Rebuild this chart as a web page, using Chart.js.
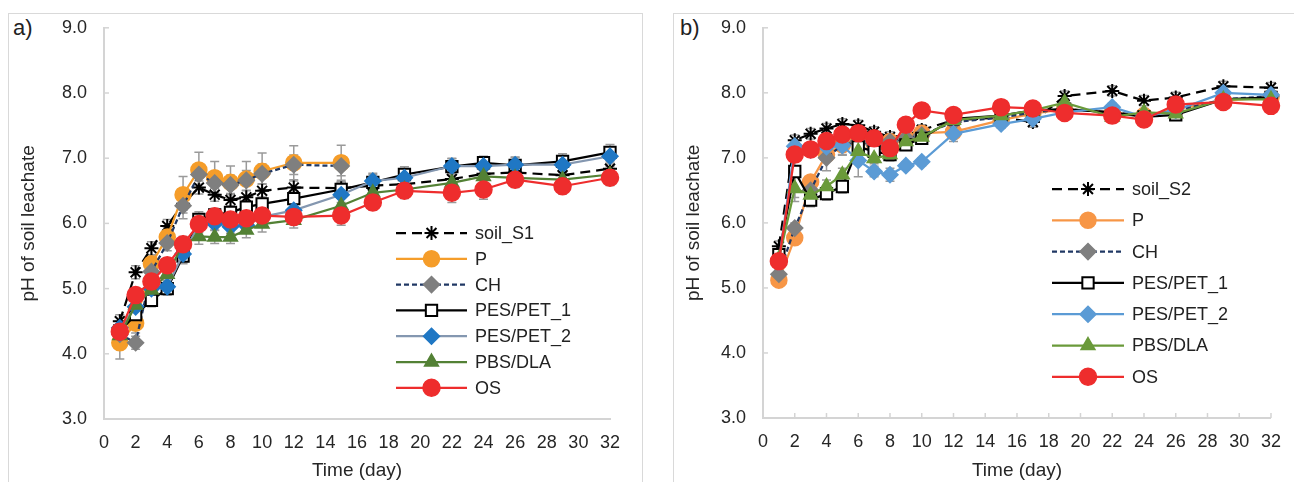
<!DOCTYPE html>
<html>
<head>
<meta charset="utf-8">
<script src="https://cdn.jsdelivr.net/npm/chart.js@4.4.1/dist/chart.umd.min.js"></script>
<style>
body { margin: 0; background: #fff; width: 1294px; height: 482px; overflow: hidden; position: relative; font-family: "Liberation Sans", Arial, sans-serif; }
.frame { position: absolute; border: 1px solid #d9d9d9; }
#frameA { left: 8px; top: 13px; width: 633px; height: 480px; }
#frameB { left: 673px; top: 13px; width: 640px; height: 480px; }
.tag { position: absolute; font-size: 22px; color: #222; top: 15px; }
canvas { position: absolute; top: 0; }
</style>
</head>
<body>
<div class="frame" id="frameA"></div>
<div class="frame" id="frameB"></div>
<div class="tag" style="left:13px">a)</div>
<div class="tag" style="left:680px">b)</div>
<canvas id="chartA" width="650" height="482" style="left:0"></canvas>
<canvas id="chartB" width="644" height="482" style="left:650px"></canvas>
<script>
// sampling days
const days = [1, 2, 3, 4, 5, 6, 7, 8, 9, 10, 12, 15, 17, 19, 22, 24, 26, 29, 32];
const daysPC = [1, 2, 3, 4, 5, 6, 7, 8, 9, 10, 12, 15];
const xTicks = [0, 2, 4, 6, 8, 10, 12, 14, 16, 18, 20, 22, 24, 26, 28, 30, 32];
const yTicks = [3, 4, 5, 6, 7, 8, 9];

// panel a) soil S1
const soilS1 = [4.5, 5.25, 5.62, 5.96, 6.3, 6.55, 6.44, 6.36, 6.4, 6.5, 6.55, 6.54, 6.58, 6.6, 6.68, 6.76, 6.78, 6.74, 6.84];
const pA = [4.17, 4.47, 5.38, 5.79, 6.44, 6.82, 6.7, 6.63, 6.68, 6.8, 6.93, 6.93];
const chA = [4.3, 4.17, 5.26, 5.7, 6.27, 6.75, 6.62, 6.59, 6.66, 6.76, 6.9, 6.88];
const pesPet1A = [4.35, 4.6, 4.82, 5.0, 5.5, 6.06, 6.13, 6.17, 6.25, 6.3, 6.38, 6.52, 6.63, 6.75, 6.87, 6.93, 6.89, 6.95, 7.09];
const pesPet2A = [4.4, 4.72, 5.0, 5.03, 5.53, 5.98, 6.0, 5.95, 5.97, 6.1, 6.2, 6.44, 6.65, 6.7, 6.88, 6.88, 6.9, 6.9, 7.03];
const pbsDlaA = [4.28, 4.75, 4.98, 5.22, 5.68, 5.8, 5.79, 5.79, 5.9, 5.99, 6.05, 6.27, 6.47, 6.52, 6.62, 6.72, 6.7, 6.67, 6.75];
const osA = [4.34, 4.9, 5.11, 5.36, 5.68, 5.99, 6.11, 6.06, 6.08, 6.12, 6.1, 6.12, 6.32, 6.5, 6.47, 6.52, 6.67, 6.57, 6.7];

const errSoilS1 = [0.1, 0.1, 0.1, 0.1, 0.1, 0.1, 0.1, 0.1, 0.1, 0.1, 0.1, 0.1, 0.1, 0.1, 0.1, 0.1, 0.1, 0.1, 0.1];
const errPA = [0.25, 0.15, 0.12, 0.15, 0.28, 0.27, 0.25, 0.25, 0.27, 0.28, 0.26, 0.27];
const errChA = [0.1, 0.1, 0.12, 0.12, 0.2, 0.15, 0.15, 0.15, 0.15, 0.15, 0.15, 0.15];
const errPesPet1A = [0.1, 0.1, 0.1, 0.1, 0.12, 0.12, 0.1, 0.1, 0.1, 0.1, 0.12, 0.12, 0.12, 0.12, 0.12, 0.1, 0.12, 0.12, 0.12];
const errPesPet2A = [0.1, 0.1, 0.1, 0.1, 0.12, 0.12, 0.1, 0.1, 0.1, 0.1, 0.12, 0.12, 0.12, 0.12, 0.12, 0.1, 0.12, 0.12, 0.12];
const errPbsDlaA = [0.1, 0.1, 0.1, 0.1, 0.12, 0.12, 0.1, 0.1, 0.12, 0.12, 0.12, 0.12, 0.2, 0.12, 0.12, 0.12, 0.12, 0.12, 0.12];
const errOsA = [0.1, 0.1, 0.1, 0.1, 0.1, 0.1, 0.1, 0.1, 0.1, 0.1, 0.12, 0.15, 0.12, 0.12, 0.15, 0.15, 0.12, 0.12, 0.12];

// panel b) soil S2
const soilS2 = [5.64, 7.27, 7.37, 7.45, 7.52, 7.5, 7.4, 7.32, 7.35, 7.43, 7.58, 7.62, 7.55, 7.95, 8.03, 7.88, 7.93, 8.1, 8.08];
const pB = [5.12, 5.77, 6.63, 7.05, 7.2, 7.28, 7.22, 7.25, 7.3, 7.38, 7.4, 7.58, 7.68, 7.75, 7.7, 7.65, 7.75, 7.88, 7.93];
const chB = [5.21, 5.92, 6.5, 7.0, 7.2, 7.25, 7.2, 7.25, 7.3, 7.35, 7.55, 7.62, 7.7, 7.75, 7.7, 7.65, 7.72, 7.9, 7.95];
const pesPet1B = [5.51, 6.79, 6.35, 6.45, 6.56, 7.17, 7.1, 7.05, 7.2, 7.3, 7.6, 7.65, 7.73, 7.75, 7.7, 7.63, 7.66, 7.9, 7.93];
const pesPet2B = [5.4, 7.18, 7.12, 7.17, 7.19, 6.96, 6.79, 6.74, 6.88, 6.94, 7.37, 7.52, 7.6, 7.7, 7.78, 7.63, 7.73, 8.0, 7.97];
const pbsDlaB = [5.45, 6.53, 6.43, 6.56, 6.74, 7.1, 6.99, 7.05, 7.25, 7.32, 7.58, 7.65, 7.73, 7.85, 7.63, 7.7, 7.68, 7.9, 7.9];
const osB = [5.41, 7.05, 7.13, 7.26, 7.36, 7.38, 7.3, 7.15, 7.51, 7.73, 7.66, 7.78, 7.76, 7.69, 7.65, 7.59, 7.82, 7.86, 7.8];

const errSoilS2 = [0.08, 0.08, 0.08, 0.08, 0.08, 0.08, 0.08, 0.08, 0.08, 0.08, 0.06, 0.06, 0.08, 0.08, 0.08, 0.08, 0.08, 0.08, 0.08];
const errPB = [0.05, 0.08, 0.08, 0.08, 0.08, 0.08, 0.08, 0.08, 0.08, 0.08, 0.08, 0.08, 0.08, 0.06, 0.06, 0.06, 0.06, 0.06, 0.06];
const errChB = [0.08, 0.08, 0.1, 0.2, 0.15, 0.15, 0.12, 0.1, 0.1, 0.1, 0.08, 0.06, 0.06, 0.06, 0.06, 0.06, 0.06, 0.06, 0.06];
const errPesPet1B = [0.08, 0.4, 0.1, 0.1, 0.1, 0.1, 0.1, 0.1, 0.08, 0.08, 0.06, 0.06, 0.06, 0.06, 0.06, 0.06, 0.06, 0.06, 0.06];
const errPesPet2B = [0.08, 0.08, 0.08, 0.08, 0.15, 0.25, 0.08, 0.1, 0.06, 0.06, 0.12, 0.06, 0.06, 0.06, 0.06, 0.06, 0.06, 0.06, 0.06];
const errPbsDlaB = [0.08, 0.2, 0.1, 0.1, 0.1, 0.1, 0.08, 0.08, 0.08, 0.08, 0.06, 0.06, 0.06, 0.06, 0.06, 0.06, 0.06, 0.06, 0.06];
const errOsB = [0.06, 0.06, 0.06, 0.06, 0.06, 0.06, 0.06, 0.06, 0.06, 0.06, 0.06, 0.06, 0.06, 0.06, 0.06, 0.06, 0.06, 0.06, 0.06];

const FONT = '"Liberation Sans", Arial, sans-serif';
const AXIS = '#d4d4d4';

function series(label, xs, ys, errs, style) {
    return Object.assign({
        label: label,
        data: xs.map((d, i) => ({ x: d, y: ys[i] })),
        err: errs,
        borderWidth: 2.25,
        pointBorderWidth: 1.5,
        pointRadius: 7.5,
        pointHoverRadius: 7.5,
        clip: false,
        tension: 0
    }, style);
}

// error bars, inner ticks and the in-plot legend
const extras = {
    id: 'extras',
    beforeDatasetsDraw(chart, args, opts) {
        const ctx = chart.ctx;
        const ys = chart.scales.y, xs = chart.scales.x;
        ctx.save();
        ctx.strokeStyle = AXIS;
        ctx.lineWidth = 1.5;
        yTicks.forEach(v => {
            const p = ys.getPixelForValue(v);
            ctx.beginPath(); ctx.moveTo(xs.left, p); ctx.lineTo(xs.left + 5, p); ctx.stroke();
        });
        if (opts.xTickMarks) {
            xTicks.forEach(v => {
                const p = xs.getPixelForValue(v);
                ctx.beginPath(); ctx.moveTo(p, ys.bottom); ctx.lineTo(p, ys.bottom - 5); ctx.stroke();
            });
        }
        ctx.strokeStyle = '#9a9a9a';
        ctx.lineWidth = 1.5;
        chart.data.datasets.forEach((ds, i) => {
            const meta = chart.getDatasetMeta(i);
            meta.data.forEach((el, j) => {
                const e = ds.err[j];
                const v = ds.data[j].y;
                const top = ys.getPixelForValue(v + e);
                const bot = ys.getPixelForValue(v - e);
                ctx.beginPath();
                ctx.moveTo(el.x, top); ctx.lineTo(el.x, bot);
                ctx.moveTo(el.x - 4.5, top); ctx.lineTo(el.x + 4.5, top);
                ctx.moveTo(el.x - 4.5, bot); ctx.lineTo(el.x + 4.5, bot);
                ctx.stroke();
            });
        });
        ctx.restore();
    },
    afterDraw(chart, args, opts) {
        const ctx = chart.ctx;
        ctx.save();
        chart.data.datasets.forEach((ds, i) => {
            const y = opts.y + i * opts.dy;
            ctx.setLineDash(ds.borderDash || []);
            ctx.strokeStyle = ds.borderColor;
            ctx.lineWidth = ds.borderWidth;
            ctx.beginPath(); ctx.moveTo(opts.x, y); ctx.lineTo(opts.x + opts.len, y); ctx.stroke();
            ctx.setLineDash([]);
            ctx.fillStyle = ds.pointBackgroundColor;
            ctx.strokeStyle = ds.pointBorderColor;
            ctx.lineWidth = ds.pointBorderWidth;
            Chart.helpers.drawPoint(ctx, {
                pointStyle: ds.pointStyle, radius: ds.pointRadius,
                borderWidth: ds.pointBorderWidth, rotation: 0
            }, opts.x + opts.len / 2, y);
            ctx.fillStyle = '#222';
            ctx.font = '18px ' + FONT;
            ctx.textBaseline = 'middle';
            ctx.fillText(ds.label, opts.x + opts.len + 8, y + 1);
        });
        ctx.restore();
    }
};

function makeChart(id, datasets, cfg) {
    return new Chart(document.getElementById(id), {
        type: 'line',
        data: { datasets: datasets },
        plugins: [extras],
        options: {
            responsive: false,
            animation: false,
            layout: { padding: { left: 0, top: cfg.top, right: cfg.right, bottom: 0 } },
            plugins: {
                legend: { display: false },
                tooltip: { enabled: false },
                extras: cfg.legend
            },
            scales: {
                x: {
                    type: 'linear', min: 0, max: 32,
                    afterBuildTicks: s => { s.ticks = xTicks.map(v => ({ value: v })); },
                    afterFit: s => { s.height = cfg.xh; },
                    grid: { display: false, drawTicks: false },
                    border: { display: true, color: AXIS, width: 2 },
                    ticks: { padding: 13, maxRotation: 0, autoSkip: false, color: '#262626', font: { family: FONT, size: 18 } },
                    title: { display: true, text: 'Time (day)', color: '#262626', padding: 0, font: { family: FONT, size: 19 } }
                },
                y: {
                    min: 3, max: 9,
                    afterBuildTicks: s => { s.ticks = yTicks.map(v => ({ value: v })); },
                    afterFit: s => { s.width = cfg.yw; },
                    grid: { display: false, drawTicks: false },
                    border: { display: true, color: AXIS, width: 2 },
                    ticks: { padding: 17, color: '#262626', font: { family: FONT, size: 18 }, callback: v => v.toFixed(1) },
                    title: { display: true, text: 'pH of soil leachate', color: '#262626', padding: { top: cfg.tpad, bottom: 0 }, font: { family: FONT, size: 19 } }
                }
            }
        }
    });
}

function styleSet(c) {
    return [
        { borderColor: '#000', borderDash: [10, 6], pointStyle: 'star', pointRadius: 7, pointBorderWidth: 2, pointBorderColor: '#000', pointBackgroundColor: '#000', order: 6 },
        { borderColor: c.p, pointStyle: 'circle', pointRadius: 8, pointBorderColor: c.p, pointBackgroundColor: c.p, order: 5 },
        { borderColor: '#203864', borderDash: [5, 3], pointStyle: 'rectRot', pointRadius: 8, pointBorderColor: '#7f7f7f', pointBackgroundColor: '#7f7f7f', order: 4 },
        { borderColor: '#000', pointStyle: 'rect', pointRadius: 8, pointBorderWidth: 2, pointBorderColor: '#000', pointBackgroundColor: '#fff', order: 3 },
        { borderColor: c.pesLine, pointStyle: 'rectRot', pointRadius: 8, pointBorderColor: c.pesPt, pointBackgroundColor: c.pesPt, order: 2 },
        { borderColor: c.pbs, pointStyle: 'triangle', pointRadius: 8, pointBorderColor: c.pbs, pointBackgroundColor: c.pbs, order: 1 },
        { borderColor: '#ee2d2d', pointStyle: 'circle', pointRadius: 8.5, pointBorderColor: '#ee2d2d', pointBackgroundColor: '#ee2d2d', order: 0 }
    ];
}

const stA = styleSet({ p: '#f59d2a', pesLine: '#8497b0', pesPt: '#1f77c4', pbs: '#538135' });
makeChart('chartA', [
    series('soil_S1', days, soilS1, errSoilS1, stA[0]),
    series('P', daysPC, pA, errPA, stA[1]),
    series('CH', daysPC, chA, errChA, stA[2]),
    series('PES/PET_1', days, pesPet1A, errPesPet1A, stA[3]),
    series('PES/PET_2', days, pesPet2A, errPesPet2A, stA[4]),
    series('PBS/DLA', days, pbsDlaA, errPbsDlaA, stA[5]),
    series('OS', days, osA, errOsA, stA[6])
], { top: 24, right: 40, xh: 63, yw: 104, tpad: 17, legend: { x: 396, y: 233, dy: 25.8, len: 71, xTickMarks: false } });

const stB = styleSet({ p: '#f79646', pesLine: '#5b9bd5', pesPt: '#5b9bd5', pbs: '#6a9a3a' });
makeChart('chartB', [
    series('soil_S2', days, soilS2, errSoilS2, stB[0]),
    series('P', days, pB, errPB, stB[1]),
    series('CH', days, chB, errChB, stB[2]),
    series('PES/PET_1', days, pesPet1B, errPesPet1B, stB[3]),
    series('PES/PET_2', days, pesPet2B, errPesPet2B, stB[4]),
    series('PBS/DLA', days, pbsDlaB, errPbsDlaB, stB[5]),
    series('OS', days, osB, errOsB, stB[6])
], { top: 25, right: 14, xh: 64, yw: 113, tpad: 32, legend: { x: 402, y: 189, dy: 31.3, len: 72, xTickMarks: true } });
</script>
</body>
</html>
